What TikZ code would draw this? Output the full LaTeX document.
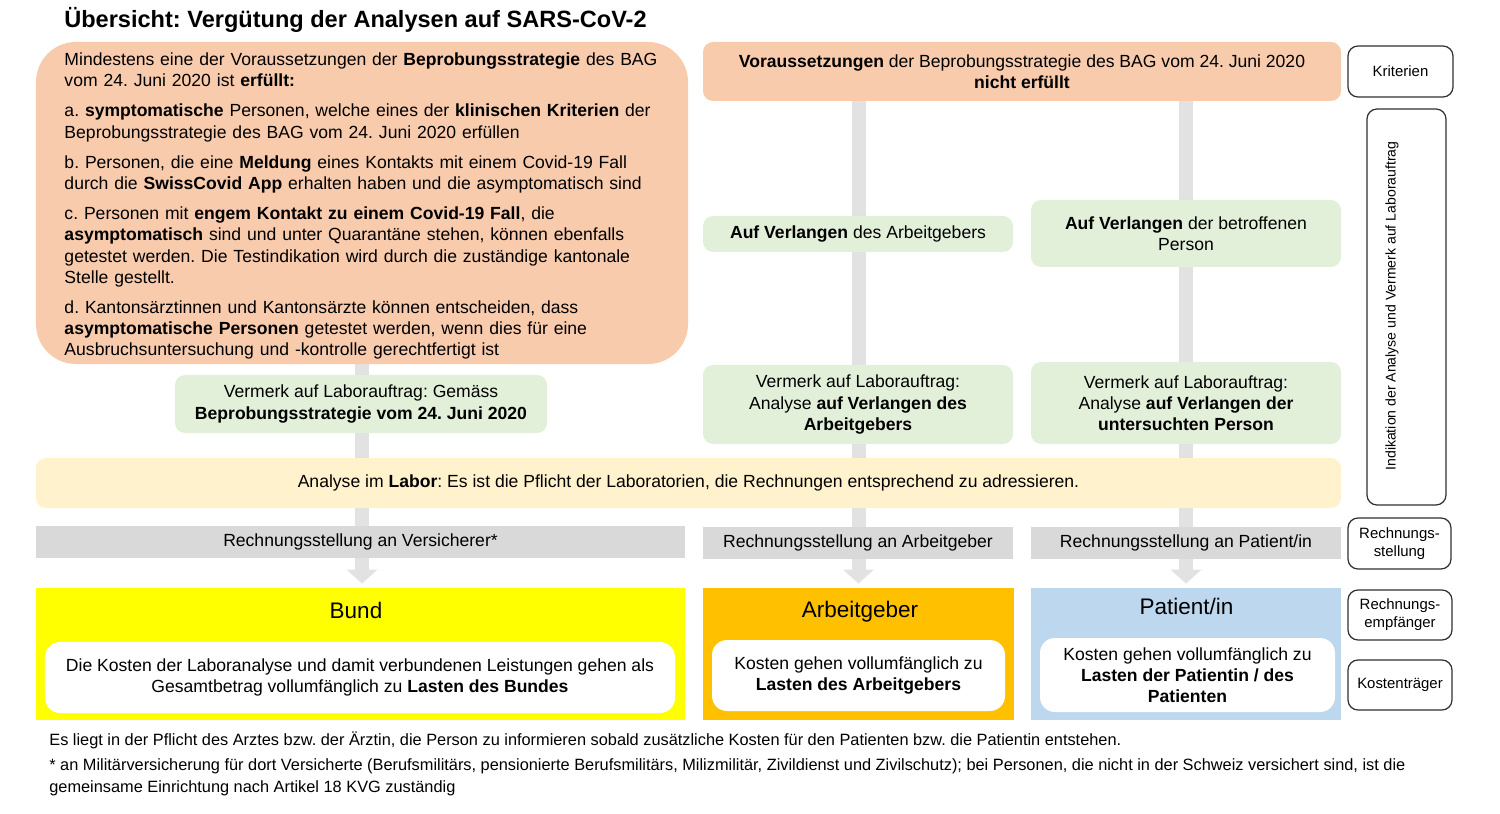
\documentclass[tikz,border=0pt]{standalone}
\usepackage{fontspec}
\setmainfont{Liberation Sans}
\usetikzlibrary{positioning, arrows.meta, backgrounds}

\definecolor{pfirsich}{HTML}{F8CBAD}
\definecolor{hellgruen}{HTML}{E2F0D9}
\definecolor{hellgelb}{HTML}{FFF2CC}
\definecolor{grau}{HTML}{D9D9D9}
\definecolor{balken}{HTML}{E2E2E2}
\definecolor{gelb}{HTML}{FFFF00}
\definecolor{dunkelgelb}{HTML}{FFC000}
\definecolor{hellblau}{HTML}{BDD7EE}
\definecolor{rahmen}{HTML}{303030}

\frenchspacing

\begin{document}
\begin{tikzpicture}[x=0.2mm, y=-0.2mm,
      txt/.style={font=\fontsize{10pt}{12.1pt}\selectfont},
      feld/.style={txt, align=center, inner sep=2pt},
      gruen/.style={feld, fill=hellgruen, rounded corners=0.2cm, minimum width=6.2cm},
      rechnung/.style={feld, fill=grau, minimum height=0.64cm},
      traeger/.style={feld, minimum height=2.64cm},
      weiss/.style={feld, fill=white, rounded corners=0.3cm, minimum height=1.42cm},
      kopf/.style={font=\fontsize{12.8pt}{15pt}\selectfont, inner sep=0pt},
      seite/.style={draw=rahmen, line width=0.7pt, fill=white, rounded corners=0.2cm, align=center,
                    font=\fontsize{8.5pt}{10.2pt}\selectfont, minimum width=2.08cm, minimum height=1.02cm},
      fuss/.style={anchor=base west, inner sep=0pt, align=left, font=\fontsize{9.3pt}{12pt}\selectfont},
      pfeil/.style={draw=balken, line width=0.28cm, -{Triangle[width=0.6cm, length=0.28cm]}, shorten >=0.08cm}
    ]
    \useasboundingbox (0,0) rectangle (1500,814);

    % ─── Titel ───────────────────────────────────────────────────
    \node[anchor=base west, inner sep=0pt, font=\bfseries\fontsize{13.4pt}{16pt}\selectfont] (titel) at (64,28)
      {Übersicht: Vergütung der Analysen auf SARS-CoV-2};

    % ─── Kriterien (oben) ────────────────────────────────────────
    \node[feld, fill=pfirsich, rounded corners=0.8cm, align=left, text width=11.9cm, inner xsep=0.57cm,
          minimum height=6.44cm] (erfuellt) at (362,203)
      {\rule{0pt}{11pt}Mindestens eine der Voraussetzungen der \textbf{Beprobungsstrategie} des BAG\\
       vom 24. Juni 2020 ist \textbf{erfüllt:}\\[5pt]
       a. \textbf{symptomatische} Personen, welche eines der \textbf{klinischen Kriterien} der\\
       Beprobungsstrategie des BAG vom 24. Juni 2020 erfüllen\\[5pt]
       b. Personen, die eine \textbf{Meldung} eines Kontakts mit einem Covid-19 Fall\\
       durch die \textbf{SwissCovid App} erhalten haben und die asymptomatisch sind\\[5pt]
       c. Personen mit \textbf{engem Kontakt zu einem Covid-19 Fall}, die\\
       \textbf{asymptomatisch} sind und unter Quarantäne stehen, können ebenfalls\\
       getestet werden. Die Testindikation wird durch die zuständige kantonale\\
       Stelle gestellt.\\[5pt]
       d. Kantonsärztinnen und Kantonsärzte können entscheiden, dass\\
       \textbf{asymptomatische Personen} getestet werden, wenn dies für eine\\
       Ausbruchsuntersuchung und -kontrolle gerechtfertigt ist};
    \node[feld, fill=pfirsich, rounded corners=0.2cm, minimum width=12.76cm, minimum height=1.18cm]
      (nichterfuellt) at (1022,71.5)
      {\textbf{Voraussetzungen} der Beprobungsstrategie des BAG vom 24. Juni 2020\\ \textbf{nicht erfüllt}};

    % ─── Verlangen ───────────────────────────────────────────────
    \node[gruen, minimum height=0.72cm] (agverl)  at (858,234)   {\textbf{Auf Verlangen} des Arbeitgebers};
    \node[gruen, minimum height=1.34cm] (patverl) at (1186,233.5) {\textbf{Auf Verlangen} der betroffenen\\ Person};

    % ─── Vermerk auf Laborauftrag ────────────────────────────────
    \node[gruen, minimum width=7.44cm, minimum height=1.16cm] (bagverm) at (361,404)
      {Vermerk auf Laborauftrag: Gemäss\\ \textbf{Beprobungsstrategie vom 24. Juni 2020}};
    \node[gruen, minimum height=1.58cm] (agverm) at (858,404.5)
      {Vermerk auf Laborauftrag:\\ Analyse \textbf{auf Verlangen des}\\ \textbf{Arbeitgebers}};
    \node[gruen, minimum height=1.64cm] (patverm) at (1186,403)
      {Vermerk auf Laborauftrag:\\ Analyse \textbf{auf Verlangen der}\\ \textbf{untersuchten Person}};

    % ─── Labor ───────────────────────────────────────────────────
    \node[feld, fill=hellgelb, rounded corners=0.2cm, minimum width=26.1cm, minimum height=1.0cm] (labor) at (688.5,483)
      {Analyse im \textbf{Labor}: Es ist die Pflicht der Laboratorien, die Rechnungen entsprechend zu adressieren.};

    % ─── Rechnungsstellung ───────────────────────────────────────
    \node[rechnung, minimum width=12.98cm] (rvers) at (360.5,542) {Rechnungsstellung an Versicherer*};
    \node[rechnung, minimum width=6.2cm]   (rag)   at (858,543)   {Rechnungsstellung an Arbeitgeber};
    \node[rechnung, minimum width=6.2cm]   (rpat)  at (1186,543)  {Rechnungsstellung an Patient/in};

    % ─── Kostenträger ────────────────────────────────────────────
    \node[traeger, fill=gelb, minimum width=12.98cm]      (bund)    at (360.5,654) {};
    \node[traeger, fill=dunkelgelb, minimum width=6.22cm] (arbeit)  at (858.5,654) {};
    \node[traeger, fill=hellblau, minimum width=6.2cm]    (patient) at (1186,654)  {};

    \node[kopf] (bundt)    at (356,610)    {Bund};
    \node[kopf] (arbeitt)  at (860,612)    {Arbeitgeber};
    \node[kopf] (patientt) at (1186.5,606) {Patient/in};

    \node[weiss, minimum width=12.6cm] (bundk) at (360,677.5)
      {Die Kosten der Laboranalyse und damit verbundenen Leistungen gehen als\\
       Gesamtbetrag vollumfänglich zu \textbf{Lasten des Bundes}};
    \node[weiss, minimum width=5.86cm] (arbeitk) at (858.5,675.5)
      {Kosten gehen vollumfänglich zu\\ \textbf{Lasten des Arbeitgebers}};
    \node[weiss, minimum width=5.9cm, minimum height=1.48cm] (patientk) at (1187.5,675)
      {Kosten gehen vollumfänglich zu\\ \textbf{Lasten der Patientin / des}\\ \textbf{Patienten}};

    % ─── Legende rechts ──────────────────────────────────────────
    \node[seite, minimum width=2.1cm] (krit) at (1400.5,71.5) {Kriterien};
    \node[seite, minimum width=1.58cm, minimum height=7.92cm] (ind) at (1406.5,307) {};
    \node[rotate=90, inner sep=0pt, font=\fontsize{8pt}{10pt}\selectfont] (indt) at (1392,306)
      {Indikation der Analyse und Vermerk auf Laborauftrag};
    \node[seite, minimum width=2.06cm] (rstell) at (1399.5,543.5) {Rechnungs-\\ stellung};
    \node[seite, minimum height=1.0cm] (rempf)  at (1400,615)     {Rechnungs-\\ empfänger};
    \node[seite, minimum height=1.0cm] (ktrag)  at (1400,685)     {Kostenträger};

    % ─── Fussnoten ───────────────────────────────────────────────
    \node[fuss] (hinweis) at (49,745)
      {Es liegt in der Pflicht des Arztes bzw. der Ärztin, die Person zu informieren sobald zusätzliche Kosten für den Patienten bzw. die Patientin entstehen.};
    \node[fuss] (stern) at (49,792)
      {* an Militärversicherung für dort Versicherte (Berufsmilitärs, pensionierte Berufsmilitärs, Milizmilitär, Zivildienst und Zivilschutz); bei Personen, die nicht in der Schweiz versichert sind, ist die\\
       gemeinsame Einrichtung nach Artikel 18 KVG zuständig};

    % ─── Pfeile (hinter den Feldern) ─────────────────────────────
    \begin{scope}[on background layer]
      \draw[pfeil] (erfuellt.south) -- (erfuellt.south |- bund.north);
      \draw[pfeil] (nichterfuellt.south -| arbeit.north) -- (arbeit.north);
      \draw[pfeil] (nichterfuellt.south -| patient.north) -- (patient.north);
    \end{scope}

\end{tikzpicture}
\end{document}
